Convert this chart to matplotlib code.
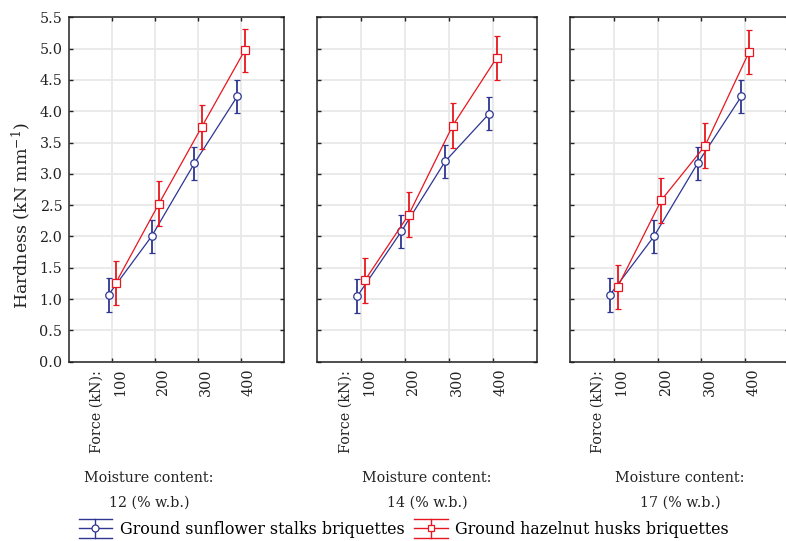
import matplotlib
matplotlib.use("Agg")
import matplotlib.pyplot as plt
import matplotlib.transforms as mtransforms
from matplotlib.lines import Line2D
from matplotlib.legend_handler import HandlerBase

# ---------------- data ----------------
forces = ["100", "200", "300", "400"]
moisture_labels = ["12 (% w.b.)", "14 (% w.b.)", "17 (% w.b.)"]
series_names = ["Ground sunflower stalks briquettes", "Ground hazelnut husks briquettes"]

sunflower_12 = [1.07, 2.00, 3.17, 4.24]
sunflower_14 = [1.05, 2.08, 3.20, 3.96]
sunflower_17 = [1.07, 2.00, 3.17, 4.24]
sunflower_err = [0.27, 0.27, 0.265, 0.265]

hazelnut_12 = [1.26, 2.52, 3.75, 4.97]
hazelnut_14 = [1.30, 2.35, 3.77, 4.85]
hazelnut_17 = [1.19, 2.58, 3.45, 4.94]
hazelnut_err = [0.355, 0.36, 0.355, 0.35]

sunflower = [sunflower_12, sunflower_14, sunflower_17]
hazelnut = [hazelnut_12, hazelnut_14, hazelnut_17]

yticks = [0.0, 0.5, 1.0, 1.5, 2.0, 2.5, 3.0, 3.5, 4.0, 4.5, 5.0, 5.5]

# ---------------- style ----------------
BLUE = "#2e3592"
RED = "#e8161e"
TXT = "#222222"
FONT = "DejaVu Serif"
FS = 10.3
plt.rcParams["font.family"] = FONT
plt.rcParams["mathtext.fontset"] = "dejavuserif"

W, H = 786, 541
fig = plt.figure(figsize=(W / 100, H / 100), dpi=100)

panels_px = [(69.3, 284.0), (317.3, 536.7), (570.0, 789.0)]
top_px, bot_px = 17.3, 361.7
xpos = [1, 2, 3, 4]
dx = 0.085

axes = []
for i, (l, r) in enumerate(panels_px):
    ax = fig.add_axes([l / W, 1 - bot_px / H, (r - l) / W, (bot_px - top_px) / H])
    axes.append(ax)
    ax.set_xlim(0, 5)
    ax.set_ylim(0, 5.5)
    ax.set_yticks(yticks)
    ax.set_xticks(xpos)
    ax.grid(True, color="#e8e8e8", lw=1.3, zorder=0)
    ax.set_axisbelow(True)
    for sp in ax.spines.values():
        sp.set_color(TXT)
        sp.set_linewidth(1.1)
    ax.tick_params(direction="in", length=3, width=1, color=TXT,
                   top=True, right=True, labelsize=FS, pad=5.0)
    if i == 0:
        ax.set_yticklabels([f"{v:.1f}" for v in yticks], fontsize=FS, color=TXT)
    else:
        ax.set_yticklabels([])
    ax.set_xticklabels(forces, rotation=90, fontsize=FS, color=TXT, va="top")
    off = mtransforms.ScaledTranslation(8 / 100, 0, fig.dpi_scale_trans)
    for lbl in ax.get_xticklabels():
        lbl.set_transform(lbl.get_transform() + off)

    xb = [x - dx for x in xpos]
    xr = [x + dx for x in xpos]
    eb1 = ax.errorbar(xb, sunflower[i], yerr=sunflower_err, color=BLUE, lw=0.9,
                      marker="o", ms=5.4, mfc="white", mec=BLUE, mew=0.9,
                      elinewidth=1.3, capsize=2.3, capthick=1.1, zorder=3)
    eb2 = ax.errorbar(xr, hazelnut[i], yerr=hazelnut_err, color=RED, lw=0.9,
                      marker="s", ms=5.4, mfc="white", mec=RED, mew=0.9,
                      elinewidth=1.3, capsize=2.3, capthick=1.1, zorder=4)

    tr = mtransforms.blended_transform_factory(ax.transData, ax.transAxes) + \
        mtransforms.ScaledTranslation(0, -8 / 100, fig.dpi_scale_trans)
    ax.text(0.64, 0, "Force (kN):", rotation=90, ha="center", va="top",
            fontsize=FS, color=TXT, transform=tr)

fig.text(21 / W, 1 - 216 / H, "Hardness (kN mm$^{-1}$)", rotation=90,
         ha="center", va="center", fontsize=12.5, color=TXT)

moist_x = [149, 427, 680]
for mx, lab in zip(moist_x, moisture_labels):
    fig.text(mx / W, 1 - 478 / H, "Moisture content:", ha="center", va="center",
             fontsize=FS, color=TXT)
    fig.text(mx / W, 1 - 503 / H, lab, ha="center", va="center",
             fontsize=FS, color=TXT)


class HandlerStat(HandlerBase):
    def create_artists(self, legend, orig, xd, yd, w, h, fs, trans):
        line = orig.lines[0]
        c = line.get_color()
        m = line.get_marker()
        y0 = h / 2 - yd
        x0 = -xd
        d = 7.0
        arts = []
        for yy in (y0 - d, y0, y0 + d):
            arts.append(Line2D([x0, x0 + w], [yy, yy], color=c, lw=1.0, transform=trans))
        arts.append(Line2D([x0 + w / 2] * 2, [y0 - d, y0 + d], color=c, lw=1.0, transform=trans))
        arts.append(Line2D([x0 + w / 2], [y0], marker=m, ms=5, mfc="white", mec=c,
                           mew=0.9, transform=trans))
        return arts


fig.legend([eb1, eb2], series_names, loc="center",
           bbox_to_anchor=(404 / W, 1 - 529.5 / H), ncol=2, frameon=False,
           fontsize=11.4, handlelength=2.1, handletextpad=0.5, columnspacing=0.6,
           handler_map={type(eb1): HandlerStat()})

fig.savefig("out.png", dpi=100)
